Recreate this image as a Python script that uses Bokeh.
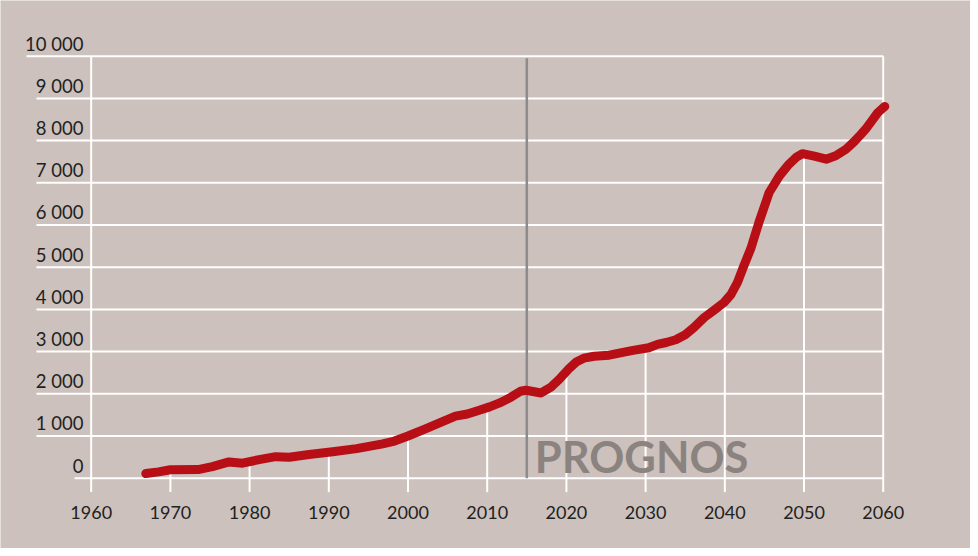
import numpy as np
from bokeh.plotting import figure
from bokeh.models import Range1d
from bokeh.core.properties import value
from bokeh.embed import file_html
from bokeh.resources import INLINE

# ---- data ----
years = [1966.9, 1968.5, 1970, 1973.5, 1975.3, 1977.4, 1979.1, 1981.2, 1983.3, 1985,
         1987.5, 1990.5, 1993.5, 1996.8, 1998.3, 2000, 2002.2, 2004.2, 2006, 2007.5,
         2009, 2010.3, 2011.5, 2013, 2014.2, 2014.9, 2016.8, 2018, 2019.1, 2020.4,
         2021.3, 2022.2, 2023.5, 2025.4, 2028.4, 2030.4, 2031.5, 2032.6, 2033.8,
         2035, 2036.1, 2037.4, 2038.7, 2039.9, 2040.8, 2041.6, 2042.4, 2043.3,
         2044.3, 2045.6, 2046.9, 2048, 2049, 2049.8, 2051.3, 2052.8, 2054,
         2055.3, 2056.3, 2057.2, 2057.9, 2058.6, 2059.3, 2060.2]
values = [110, 150, 200, 205, 275, 385, 355, 440, 510, 495,
          560, 625, 700, 815, 880, 1000, 1170, 1330, 1470, 1520,
          1610, 1690, 1778, 1920, 2060, 2085, 2020, 2150, 2346, 2610,
          2760, 2844, 2890, 2915, 3030, 3090, 3170, 3216, 3280,
          3400, 3571, 3808, 3990, 4163, 4360, 4640, 5033, 5450,
          6060, 6770, 7165, 7420, 7600, 7690, 7630, 7560, 7640,
          7796, 7970, 8152, 8300, 8480, 8660, 8810]
y_ticks = [0, 1000, 2000, 3000, 4000, 5000, 6000, 7000, 8000, 9000, 10000]
y_labels = ["0", "1 000", "2 000", "3 000", "4 000", "5 000", "6 000",
            "7 000", "8 000", "9 000", "10 000"]
x_ticks = [1960, 1970, 1980, 1990, 2000, 2010, 2020, 2030, 2040, 2050, 2060]
x_labels = [str(t) for t in x_ticks]
forecast_start = 2015
forecast_label = "PROGNOS"

BG = "#CCC1BC"
FONT = "Lato"
TXT = "#222222"

p = figure(width=970, height=548, output_backend="svg", toolbar_location=None,
           x_range=Range1d(1948.55, 2071.02), y_range=Range1d(-1666, 11320),
           min_border_left=0, min_border_right=0, min_border_top=0,
           min_border_bottom=0)
p.background_fill_color = BG
p.border_fill_color = BG
p.outline_line_color = None
p.xgrid.visible = False
p.ygrid.visible = False
p.xaxis.visible = False
p.yaxis.visible = False

# horizontal white lines starting under the labels
label_right = 1959.03
char_w = {1: 1.13, 5: 5.94, 6: 7.2}
x0s = [label_right - char_w[len(s)] for s in y_labels]
p.segment(x0=x0s, y0=y_ticks, x1=[2060] * len(y_ticks), y1=y_ticks,
          line_color="white", line_width=2)

# y labels (sitting above their lines)
p.text(x=[label_right] * len(y_ticks), y=[v + 300 for v in y_ticks], text=y_labels,
       text_align="right", text_baseline="middle", text_font=value(FONT),
       text_font_size="18.5px", text_color=TXT)

# x labels
p.text(x=x_ticks, y=[-805] * len(x_ticks), text=x_labels,
       text_align="center", text_baseline="middle", text_font=value(FONT),
       text_font_size="18px", text_color=TXT)

# frame vertical lines at ends
tick_bottom = -330
p.segment(x0=[x_ticks[0], x_ticks[-1]], y0=[tick_bottom] * 2,
          x1=[x_ticks[0], x_ticks[-1]], y1=[y_ticks[-1]] * 2,
          line_color="white", line_width=2)

# drop lines at inner decades up to the curve
inner = x_ticks[1:-1]
tops = list(np.interp(inner, years, values))
p.segment(x0=inner, y0=[tick_bottom] * len(inner), x1=inner, y1=tops,
          line_color="white", line_width=2)

# forecast divider
p.segment(x0=[forecast_start], y0=[0], x1=[forecast_start], y1=[9950],
          line_color="#8C8C8C", line_width=2.5)

# main curve
p.line(years, values, line_color="#B70F15", line_width=9,
       line_cap="round", line_join="round")

# forecast label
p.text(x=[2016.0], y=[530], text=[forecast_label], text_align="left",
       text_baseline="middle", text_font=value(FONT), text_font_style="bold",
       text_font_size="43.5px", text_color="#8A8380")

open("out.html", "w").write(file_html(p, INLINE))
